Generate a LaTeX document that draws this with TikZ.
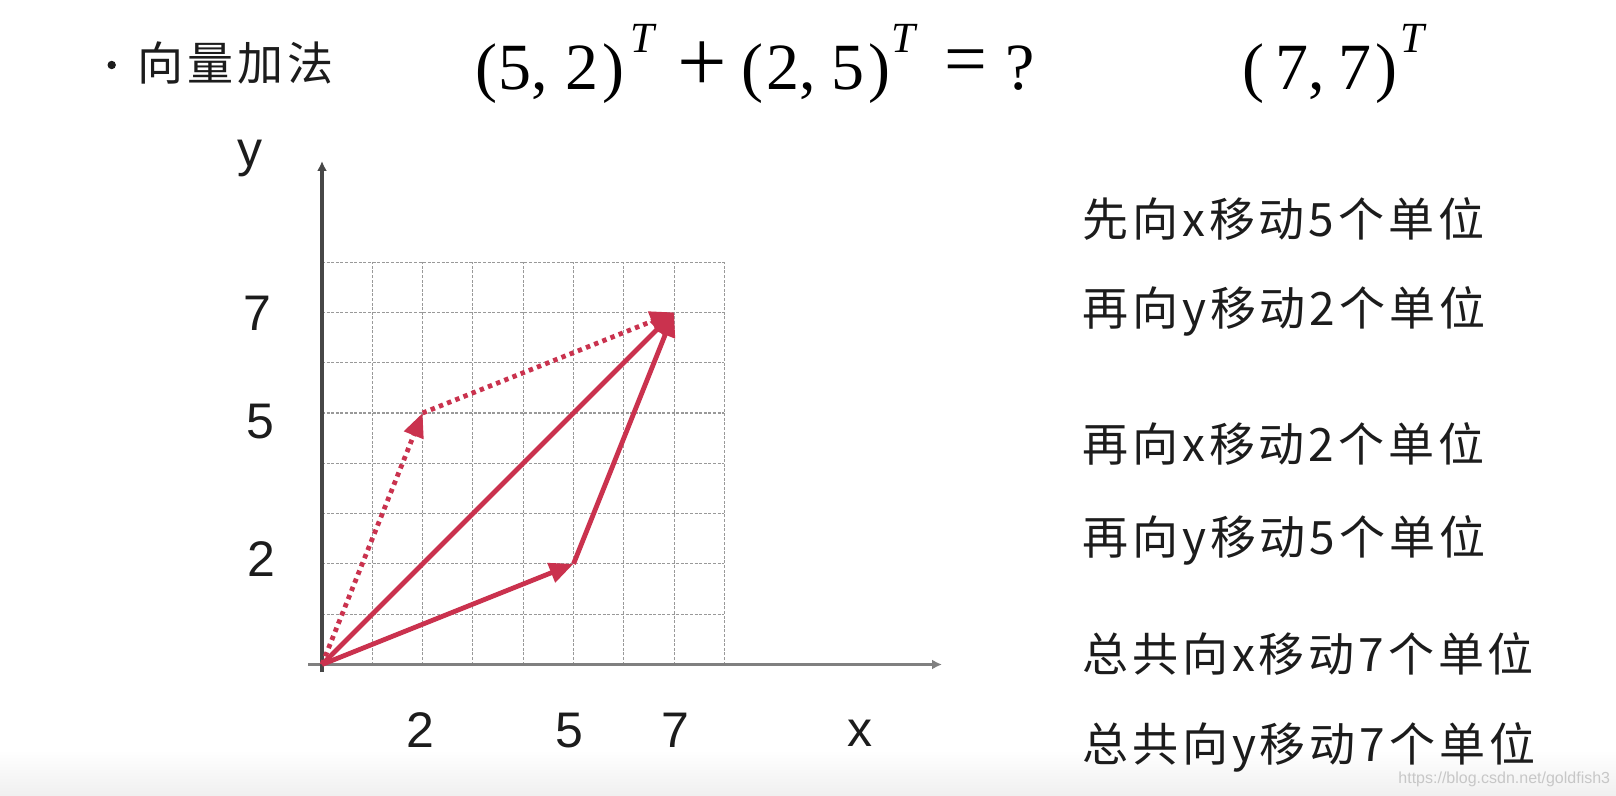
\documentclass[tikz,border=0pt]{standalone}
\usepackage{fontspec}
\setmainfont{Liberation Sans}
\newfontfamily\cjkfont[LetterSpace=8.5]{Noto Sans CJK SC}
\newfontfamily\timesfont{Liberation Serif}
\usetikzlibrary{arrows.meta}
\definecolor{vred}{RGB}{202,50,78}
\definecolor{txt}{RGB}{28,28,28}
\begin{document}
\begin{tikzpicture}[x=0.5pt,y=-0.5pt,
  cjk/.style={font=\cjkfont\fontsize{23pt}{23pt}\selectfont, text=txt, inner sep=0pt, anchor=base west},
  lab/.style={font=\fontsize{25pt}{25pt}\selectfont, text=txt, inner sep=0pt, anchor=base},
  mth/.style={font=\timesfont\fontsize{33pt}{33pt}\selectfont, text=black, inner sep=0pt, anchor=base west},
  opplus/.style={font=\timesfont\fontsize{44pt}{44pt}\selectfont, text=black, inner sep=0pt, anchor=base west},
  opeq/.style={font=\timesfont\fontsize{38pt}{38pt}\selectfont, text=black, inner sep=0pt, anchor=base west},
  sup/.style={font=\timesfont\itshape\fontsize{21.5pt}{21.5pt}\selectfont, text=black, inner sep=0pt, anchor=base west},
  wm/.style={font=\fontsize{8pt}{8pt}\selectfont, text=black!22, inner sep=0pt, anchor=base west},
  gridline/.style={black!40, line width=0.55pt, dash pattern=on 1.5pt off 0.8pt},
  yaxis/.style={black!72, line width=1.6pt, -{Latex[length=5pt,width=5pt]}},
  xaxis/.style={black!50, line width=1.5pt, -{Latex[length=5pt,width=5pt]}},
  vec/.style={vred, line width=2.4pt, -{Triangle[length=12pt,width=10pt]}},
  dvec/.style={vred, line width=2.4pt, dash pattern=on 2.2pt off 2.2pt, -{Triangle[length=12pt,width=10pt]}},
]
\fill[white] (0,0) rectangle (1616,796);
\shade[top color=white, bottom color=black!6] (0,750) rectangle (1616,796);
\useasboundingbox (0,0) rectangle (1616,796);

% title
\node[circle, fill=txt, inner sep=0pt, minimum size=4.2pt] (bul) at (111.7,65) {};
\node[cjk] (title) at (137,81) {向量加法};

% formula
\node[mth] (m1) at (475,90) {(\kern0.5pt5,\kern9pt2\kern2pt)};
\node[sup] (t1) at (630,53) {T};
\node[opplus] (plus) at (677,91.5) {+};
\node[mth] (m2) at (741,90) {(\kern1.5pt2,\kern8pt5\kern2pt)};
\node[sup] (t2) at (891,53) {T};
\node[opeq] (eq) at (944.5,85) {=};
\node[mth] (q) at (1005,90) {?};
\node[mth] (m3) at (1242,90) {(\kern5.5pt7,\kern7pt7\kern2pt)};
\node[sup] (t3) at (1400,53) {T};

% grid and vectors
\begin{scope}[shift={(322,664.5)}, x=25.15pt, y=25.15pt]
  \draw[gridline] (0,0) grid[step=1] (8,8);
  \coordinate (O) at (0,0);
  \coordinate (A) at (5,2);
  \coordinate (B) at (2,5);
  \coordinate (C) at (7,7);
\end{scope}

\coordinate (ys) at (322,672);
\coordinate (ye) at (322,161);
\coordinate (xs) at (308,664.5);
\coordinate (xe) at (942,664.5);
\draw[xaxis] (xs) -- (xe);
\draw[yaxis] (ys) -- (ye);

\draw[vec] (O) -- (A);
\draw[vec] (A) -- (C);
\draw[vec] (O) -- (C);
\draw[dvec] (O) -- (B);
\draw[dvec] (B) -- (C);

% axis labels
\node[lab] (ly) at (250,167) {y};
\node[lab] (l7y) at (257,331) {7};
\node[lab] (l5y) at (260,438) {5};
\node[lab] (l2y) at (261,576) {2};
\node[lab] (l2x) at (420,747) {2};
\node[lab] (l5x) at (569,747) {5};
\node[lab] (l7x) at (675,747) {7};
\node[lab] (lx) at (860,746) {x};

% explanations
\node[cjk] (s1) at (1082,237) {先向x移动5个单位};
\node[cjk] (s2) at (1082,326) {再向y移动2个单位};
\node[cjk] (s3) at (1082,461) {再向x移动2个单位};
\node[cjk] (s4) at (1082,554) {再向y移动5个单位};
\node[cjk] (s5) at (1082,671.5) {总共向x移动7个单位};
\node[cjk] (s6) at (1082,761) {总共向y移动7个单位};

\node[wm] (wmark) at (1398,783) {https://blog.csdn.net/goldfish3};
\end{tikzpicture}
\end{document}
